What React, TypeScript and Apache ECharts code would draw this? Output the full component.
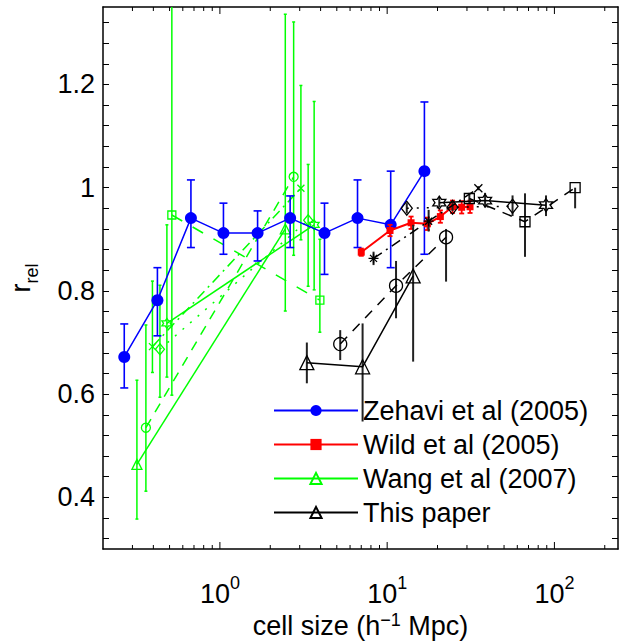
import React, { useEffect, useRef } from 'react';
import * as echarts from 'echarts';

// ---------- axes ----------
const X_MIN = 0.2;
const X_MAX = 240;
const Y_MIN = 0.3;
const Y_MAX = 1.35;
const X_TICKS = [0.3, 0.4, 0.5, 0.6, 0.7, 0.8, 0.9, 1, 2, 3, 4, 5, 6, 7, 8, 9, 10, 20, 30, 40, 50, 60, 70, 80, 90, 100, 200];
const Y_LABELS = [0.4, 0.6, 0.8, 1.0, 1.2];
const Y_TICKS = [0.32, 0.36, 0.4, 0.44, 0.48, 0.52, 0.56, 0.6, 0.64, 0.68, 0.72, 0.76, 0.8, 0.84, 0.88, 0.92, 0.96, 1.0, 1.04, 1.08, 1.12, 1.16, 1.2, 1.24, 1.28, 1.32];

// ---------- Zehavi et al (2005) ----------
const ZEHAVI_X = [0.268, 0.423, 0.671, 1.05, 1.68, 2.63, 4.22, 6.65, 10.5, 16.7];
const ZEHAVI_Y = [0.672, 0.782, 0.941, 0.912, 0.912, 0.941, 0.912, 0.941, 0.928, 1.032];
const ZEHAVI_LO = [0.612, 0.713, 0.884, 0.871, 0.858, 0.884, 0.832, 0.884, 0.845, 0.871];
const ZEHAVI_HI = [0.736, 0.845, 1.015, 0.970, 0.955, 0.984, 0.970, 1.015, 1.032, 1.166];

// ---------- Wild et al (2005) ----------
const WILD_X = [7.0, 10.4, 13.9, 17.4, 20.8, 24.6, 27.9, 31.3];
const WILD_Y = [0.875, 0.917, 0.932, 0.930, 0.944, 0.963, 0.962, 0.963];
const WILD_LO = [0.868, 0.906, 0.920, 0.918, 0.932, 0.951, 0.950, 0.951];
const WILD_HI = [0.882, 0.928, 0.944, 0.942, 0.956, 0.975, 0.974, 0.975];

// ---------- Wang et al (2007) ----------
const WANG_TRI_X = [0.319, 2.46];
const WANG_TRI_Y = [0.464, 0.920];
const WANG_TRI_LO = [0.358, 0.761];
const WANG_TRI_HI = [0.627, 1.336];
const WANG_CIR_X = [0.361, 2.76];
const WANG_CIR_Y = [0.535, 1.021];
const WANG_CIR_LO = [0.412, 0.869];
const WANG_CIR_HI = [0.734, 1.321];
const WANG_XX_X = [0.395, 3.05];
const WANG_XX_Y = [0.692, 0.999];
const WANG_XX_LO = [0.642, 0.899];
const WANG_XX_HI = [0.819, 1.198];
const WANG_DIA_X = [0.438, 3.37];
const WANG_DIA_Y = [0.687, 0.937];
const WANG_DIA_LO = [0.594, 0.809];
const WANG_DIA_HI = [0.811, 1.045];
const WANG_HEX_X = [0.482, 3.66];
const WANG_HEX_Y = [0.737, 0.928];
const WANG_HEX_LO = [0.633, 0.802];
const WANG_HEX_HI = [0.928, 1.167];
const WANG_SQ_X = [0.516, 3.96];
const WANG_SQ_Y = [0.947, 0.782];
const WANG_SQ_LO = [0.598, 0.720];
const WANG_SQ_HI = [1.45, 0.900];

// ---------- This paper ----------
const PAPER_TRI_X = [3.31, 7.13, 14.3];
const PAPER_TRI_Y = [0.661, 0.653, 0.829];
const PAPER_TRI_LO = [0.621, 0.547, 0.663];
const PAPER_TRI_HI = [0.700, 0.737, 0.928];
const PAPER_CIR_X = [5.24, 11.3, 22.5];
const PAPER_CIR_Y = [0.697, 0.810, 0.904];
const PAPER_CIR_LO = [0.666, 0.747, 0.818];
const PAPER_CIR_HI = [0.724, 0.858, 0.920];
const PAPER_AST_X = [8.29, 17.7, 35.1];
const PAPER_AST_Y = [0.863, 0.935, 0.999];
const PAPER_AST_LO = [0.850, 0.915, 0.995];
const PAPER_AST_HI = [0.876, 0.957, 1.003];
const PAPER_DIA_X = [13.1, 24.6, 56.2];
const PAPER_DIA_Y = [0.960, 0.962, 0.964];
const PAPER_DIA_LO = [0.950, 0.955, 0.945];
const PAPER_DIA_HI = [0.970, 0.970, 0.985];
const PAPER_HEX_X = [20.5, 38.5, 89.1];
const PAPER_HEX_Y = [0.971, 0.975, 0.966];
const PAPER_HEX_LO = [0.962, 0.962, 0.945];
const PAPER_HEX_HI = [0.980, 0.990, 0.985];
const PAPER_SQ_X = [31.0, 66.7, 133];
const PAPER_SQ_Y = [0.979, 0.934, 1.0];
const PAPER_SQ_LO = [0.970, 0.866, 0.960];
const PAPER_SQ_HI = [0.990, 0.989, 1.0];

// ---------- styles ----------
const FONT = "'Liberation Sans', Arial, Helvetica, sans-serif";
const BLUE = '#0000ff';
const RED = '#ff0000';
const GREEN = '#00ff00';
const BLACK = '#000000';
const SYM_X = 'path://M0,0L10,10M10,0L0,10';
const SYM_AST = 'path://M5,0L5,10M0,5L10,5M1.5,1.5L8.5,8.5M8.5,1.5L1.5,8.5';
const SYM_HEX = 'path://M10,0L7.113,5L1.34,5L4.226,10L1.34,15L7.113,15L10,20L12.887,15L18.66,15L15.774,10L18.66,5L12.887,5Z';

function pts(xs: number[], ys: number[]) {
  return xs.map((x, i) => [x, ys[i]]);
}

function lineSeries(name: string, data: any[], o: any) {
  return {
    type: 'line',
    name,
    data,
    z: o.z,
    symbol: o.symbol,
    symbolSize: o.size,
    showSymbol: true,
    clip: true,
    silent: true,
    emphasis: { disabled: true },
    itemStyle: o.hollow
      ? { color: 'none', borderColor: o.color, borderWidth: o.bw ?? 1.3 }
      : { color: o.color, borderColor: o.color, borderWidth: 0 },
    lineStyle: { color: o.color, width: o.width ?? 1.5, type: o.type ?? 'solid' },
  };
}

function errSeries(name: string, xs: number[], lo: number[], hi: number[], color: string, width: number, cap: number, z: number) {
  return {
    type: 'custom',
    name,
    z,
    silent: true,
    data: xs.map((x, i) => [x, lo[i], hi[i]]),
    encode: { x: 0, y: [1, 2] },
    renderItem: (params: any, api: any) => {
      const cs = params.coordSys;
      const x = api.value(0);
      const a = api.coord([x, api.value(1)]);
      const b = api.coord([x, api.value(2)]);
      const yTop = Math.max(cs.y, Math.min(a[1], b[1]));
      const yBot = Math.min(cs.y + cs.height, Math.max(a[1], b[1]));
      const style = { stroke: color, lineWidth: width };
      const children: any[] = [{ type: 'line', shape: { x1: a[0], y1: yTop, x2: a[0], y2: yBot }, style }];
      if (cap > 0) {
        [a[1], b[1]].forEach((yy) => {
          if (yy >= cs.y && yy <= cs.y + cs.height) {
            children.push({ type: 'line', shape: { x1: a[0] - cap / 2, y1: yy, x2: a[0] + cap / 2, y2: yy }, style });
          }
        });
      }
      return { type: 'group', children };
    },
  };
}

function buildOption() {
  const tickSeries = {
    type: 'custom',
    name: 'xticks',
    z: 20,
    silent: true,
    data: X_TICKS.map((v) => [v, 1]),
    encode: { x: 0, y: 1 },
    renderItem: (params: any, api: any) => {
      const cs = params.coordSys;
      const v = api.value(0);
      const px = api.coord([v, api.value(1)])[0];
      const lg = Math.log10(v);
      const len = Math.abs(lg - Math.round(lg)) < 1e-6 ? 7 : 4;
      const bottom = cs.y + cs.height;
      const style = { stroke: BLACK, lineWidth: 1 };
      return {
        type: 'group',
        children: [
          { type: 'line', shape: { x1: px, y1: bottom, x2: px, y2: bottom - len }, style },
          { type: 'line', shape: { x1: px, y1: cs.y, x2: px, y2: cs.y + len }, style },
        ],
      };
    },
  };

  const supLabelRich = {
    b: { fontSize: 27, lineHeight: 40, fontFamily: FONT, color: BLACK },
    s: { fontSize: 18, lineHeight: 14, verticalAlign: 'top', fontFamily: FONT, color: BLACK },
  };

  const yAxisCommon = {
    type: 'value',
    min: Y_MIN,
    max: Y_MAX,
    splitLine: { show: false },
    axisLine: { show: true, lineStyle: { color: BLACK, width: 1.5 } },
    axisTick: { show: true, inside: true, length: 6, customValues: Y_TICKS, lineStyle: { color: BLACK, width: 1 } },
  };

  return {
    animation: false,
    backgroundColor: '#ffffff',
    grid: { left: 103, right: 2, top: 7, bottom: 93, containLabel: false, outerBoundsMode: 'none' },
    legend: {
      orient: 'vertical',
      left: 273,
      top: 397,
      padding: 0,
      itemWidth: 84,
      itemHeight: 14,
      itemGap: 7,
      selectedMode: false,
      textStyle: { fontSize: 27, color: BLACK, fontFamily: FONT },
      data: ['Zehavi et al (2005)', 'Wild et al (2005)', 'Wang et al (2007)', 'This paper'],
    },
    xAxis: [
      {
        type: 'log',
        logBase: 10,
        min: X_MIN,
        max: X_MAX,
        position: 'bottom',
        splitLine: { show: false },
        axisLine: { show: true, lineStyle: { color: BLACK, width: 1.5 } },
        axisTick: { show: false },
        axisLabel: {
          margin: 25,
          color: BLACK,
          fontFamily: FONT,
          formatter: (v: number) => {
            const lg = Math.log10(v);
            if (Math.abs(lg - Math.round(lg)) > 1e-6) return '';
            return '{b|10}{s|' + Math.round(lg) + '}';
          },
          rich: supLabelRich,
        },
        name: '{b|cell size (h}{s|\u22121}{b| Mpc)}',
        nameLocation: 'middle',
        nameGap: 62,
        nameMoveOverlap: false,
        nameTextStyle: { rich: { b: { fontSize: 27, lineHeight: 30, fontFamily: FONT, color: BLACK }, s: { fontSize: 18, lineHeight: 12, verticalAlign: 'top', fontFamily: FONT, color: BLACK } } },
      },
      {
        type: 'log',
        logBase: 10,
        min: X_MIN,
        max: X_MAX,
        position: 'top',
        splitLine: { show: false },
        axisLine: { show: true, lineStyle: { color: BLACK, width: 1.5 } },
        axisTick: { show: false },
        axisLabel: { show: false },
      },
    ],
    yAxis: [
      {
        ...yAxisCommon,
        position: 'left',
        axisLabel: {
          show: true,
          customValues: Y_LABELS,
          margin: 8,
          fontSize: 27,
          color: BLACK,
          fontFamily: FONT,
          formatter: (v: number) => String(Math.round(v * 10) / 10),
        },
        name: '{r|r}{s|rel}',
        nameLocation: 'middle',
        nameRotate: 90,
        nameGap: 62,
        nameTextStyle: {
          rich: {
            r: { fontSize: 27, lineHeight: 34, verticalAlign: 'top', fontFamily: FONT, color: BLACK },
            s: { fontSize: 18, lineHeight: 18, verticalAlign: 'bottom', fontFamily: FONT, color: BLACK },
          },
        },
      },
      { ...yAxisCommon, position: 'right', axisLabel: { show: false } },
    ],
    series: [
      // Wang et al (2007) – green
      errSeries('e-wang-tri', WANG_TRI_X, WANG_TRI_LO, WANG_TRI_HI, GREEN, 1.5, 3, 2),
      errSeries('e-wang-cir', WANG_CIR_X, WANG_CIR_LO, WANG_CIR_HI, GREEN, 1.5, 3, 2),
      errSeries('e-wang-x', WANG_XX_X, WANG_XX_LO, WANG_XX_HI, GREEN, 1.5, 3, 2),
      errSeries('e-wang-dia', WANG_DIA_X, WANG_DIA_LO, WANG_DIA_HI, GREEN, 1.5, 3, 2),
      errSeries('e-wang-hex', WANG_HEX_X, WANG_HEX_LO, WANG_HEX_HI, GREEN, 1.5, 3, 2),
      errSeries('e-wang-sq', WANG_SQ_X, WANG_SQ_LO, WANG_SQ_HI, GREEN, 1.5, 3, 2),
      lineSeries('Wang et al (2007)', pts(WANG_TRI_X, WANG_TRI_Y), { color: GREEN, symbol: 'triangle', size: 10, hollow: true, z: 3 }),
      lineSeries('Wang circles', pts(WANG_CIR_X, WANG_CIR_Y), { color: GREEN, symbol: 'circle', size: 9, hollow: true, type: [10, 8], z: 3 }),
      lineSeries('Wang crosses', pts(WANG_XX_X, WANG_XX_Y), { color: GREEN, symbol: SYM_X, size: 7, hollow: true, type: [10, 5, 2, 5], z: 3 }),
      lineSeries('Wang diamonds', pts(WANG_DIA_X, WANG_DIA_Y), { color: GREEN, symbol: 'diamond', size: [9, 11], hollow: true, type: [2, 8], z: 3 }),
      lineSeries('Wang hexagrams', pts(WANG_HEX_X, WANG_HEX_Y), { color: GREEN, symbol: SYM_HEX, size: 10, hollow: true, z: 3 }),
      lineSeries('Wang squares', pts(WANG_SQ_X, WANG_SQ_Y), { color: GREEN, symbol: 'rect', size: 8, hollow: true, type: [12, 12], z: 3 }),
      // Zehavi et al (2005) – blue
      errSeries('e-zehavi', ZEHAVI_X, ZEHAVI_LO, ZEHAVI_HI, BLUE, 1.6, 8, 4),
      lineSeries('Zehavi et al (2005)', pts(ZEHAVI_X, ZEHAVI_Y), { color: BLUE, symbol: 'circle', size: 12, z: 5 }),
      // Wild et al (2005) – red
      errSeries('e-wild', WILD_X, WILD_LO, WILD_HI, RED, 1.8, 5, 6),
      lineSeries('Wild et al (2005)', pts(WILD_X, WILD_Y), { color: RED, symbol: 'rect', size: 7, width: 2, z: 7 }),
      // This paper – black
      errSeries('e-paper-tri', PAPER_TRI_X, PAPER_TRI_LO, PAPER_TRI_HI, '#222222', 2, 0, 8),
      errSeries('e-paper-cir', PAPER_CIR_X, PAPER_CIR_LO, PAPER_CIR_HI, '#222222', 2, 0, 8),
      errSeries('e-paper-ast', PAPER_AST_X, PAPER_AST_LO, PAPER_AST_HI, '#222222', 2, 0, 8),
      errSeries('e-paper-dia', PAPER_DIA_X, PAPER_DIA_LO, PAPER_DIA_HI, '#222222', 2, 0, 8),
      errSeries('e-paper-hex', PAPER_HEX_X, PAPER_HEX_LO, PAPER_HEX_HI, '#222222', 2, 0, 8),
      errSeries('e-paper-sq', PAPER_SQ_X, PAPER_SQ_LO, PAPER_SQ_HI, '#222222', 2, 0, 8),
      lineSeries('This paper', pts(PAPER_TRI_X, PAPER_TRI_Y), { color: BLACK, symbol: 'triangle', size: 14, hollow: true, z: 9 }),
      lineSeries('Paper circles', pts(PAPER_CIR_X, PAPER_CIR_Y), { color: BLACK, symbol: 'circle', size: 13, hollow: true, type: [10, 8], z: 9 }),
      lineSeries(
        'Paper asterisks',
        PAPER_AST_X.map((x, i) => (i === 2 ? { value: [x, PAPER_AST_Y[i]], symbol: SYM_X, symbolSize: 8 } : [x, PAPER_AST_Y[i]])),
        { color: BLACK, symbol: SYM_AST, size: 10, hollow: true, type: [10, 5, 2, 5], z: 9 }
      ),
      lineSeries('Paper diamonds', pts(PAPER_DIA_X, PAPER_DIA_Y), { color: BLACK, symbol: 'diamond', size: [11, 14], hollow: true, type: [2, 8], z: 9 }),
      lineSeries('Paper hexagrams', pts(PAPER_HEX_X, PAPER_HEX_Y), { color: BLACK, symbol: SYM_HEX, size: 13, hollow: true, z: 9 }),
      lineSeries('Paper squares', pts(PAPER_SQ_X, PAPER_SQ_Y), { color: BLACK, symbol: 'rect', size: 10, hollow: true, type: [10, 8], z: 9 }),
      tickSeries,
    ],
  };
}

export default function App() {
  const ref = useRef<HTMLDivElement>(null);
  useEffect(() => {
    if (!ref.current) return;
    const chart = echarts.init(ref.current, undefined, { renderer: 'svg' });
    chart.setOption(buildOption() as any);
    return () => chart.dispose();
  }, []);
  return (
    <div
      ref={ref}
      style={{ position: 'fixed', left: 0, top: 0, width: 620, height: 642, background: '#ffffff' }}
    />
  );
}
